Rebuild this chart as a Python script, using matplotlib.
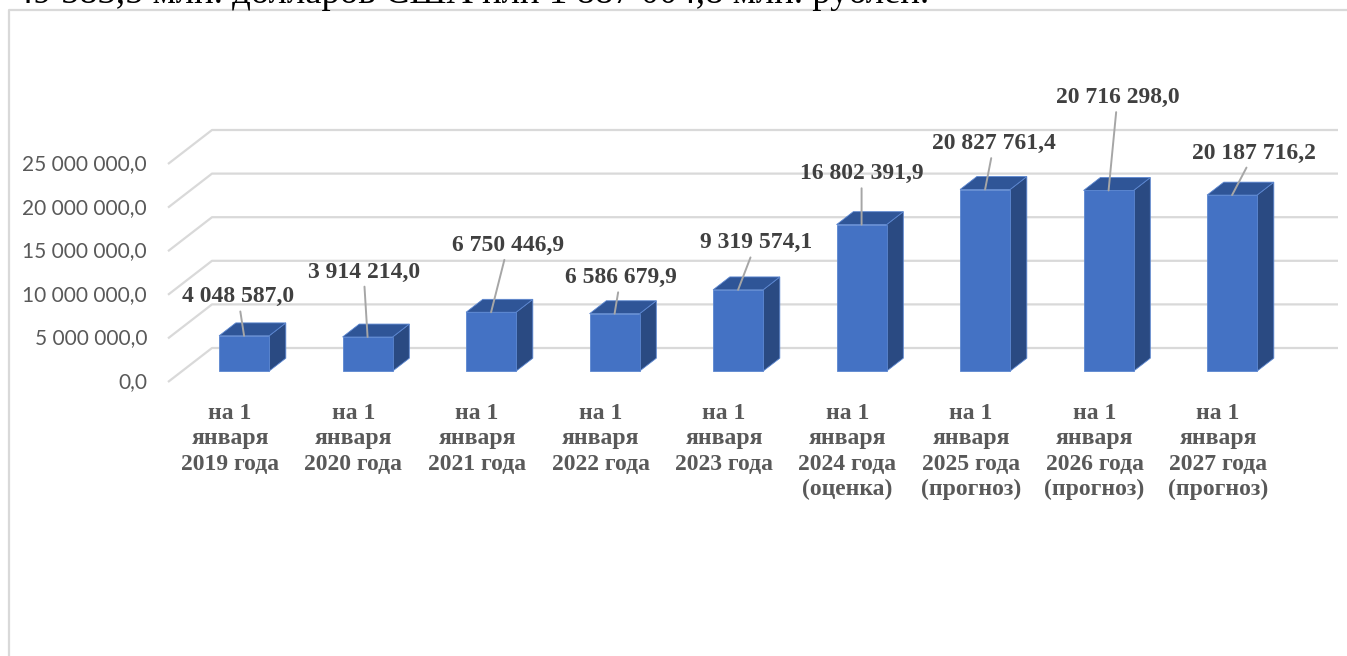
import matplotlib.pyplot as plt
from matplotlib.patches import Polygon
from matplotlib.lines import Line2D

# data
categories = [
    "на 1\nянваря\n2019 года",
    "на 1\nянваря\n2020 года",
    "на 1\nянваря\n2021 года",
    "на 1\nянваря\n2022 года",
    "на 1\nянваря\n2023 года",
    "на 1\nянваря\n2024 года\n(оценка)",
    "на 1\nянваря\n2025 года\n(прогноз)",
    "на 1\nянваря\n2026 года\n(прогноз)",
    "на 1\nянваря\n2027 года\n(прогноз)",
]
values = [4048587.0, 3914214.0, 6750446.9, 6586679.9, 9319574.1,
          16802391.9, 20827761.4, 20716298.0, 20187716.2]
y_ticks = [0, 5000000, 10000000, 15000000, 20000000, 25000000]
header_text = "49 583,5 млн. долларов США или 1 887 004,8 млн. рублей."

# label placement (pixels from bar top, manual like in the source chart)
label_offsets = [(-6, 39), (-4, 65), (17, 67), (6, 36), (18, 47),
                 (0, 51), (9, 46), (9, 93), (22, 42)]


def fmt(v):
    s = f"{v:,.1f}".replace(",", " ").replace(".", ",")
    return s


W, H = 1347, 656
fig = plt.figure(figsize=(W / 100, H / 100), dpi=100)
ax = fig.add_axes([0, 0, 1, 1])
ax.set_axis_off()

# pixel -> data scale: 123.5 px per category, 8.72 px per million
px_cat = 123.5
px_val = 8.72e-6
ax.set_xlim(-230 / px_cat, (W - 230) / px_cat)
ax.set_ylim((382 - H) / px_val, 382 / px_val)

DX = 44 / px_cat      # depth shift, category units
DY = 34 / px_val      # depth shift, value units


def P(c, v, d):
    return (c + d * DX, v + d * DY)


grid_col = "#D9D9D9"
x_left = -62 / px_cat
x_right = (1338 - 230) / px_cat

# walls / gridlines
for t in y_ticks:
    a = P(x_left, t, 0)
    b = P(x_left, t, 1)
    ax.plot([a[0], b[0], x_right], [a[1], b[1], b[1]], color=grid_col, lw=1.6,
            solid_capstyle="butt", zorder=1)
    ax.text(a[0] - 21 / px_cat, a[1], fmt(t), ha="right", va="center",
            fontsize=15, color="#595959", family="Lato")

# bars
front_col = "#4472C4"
top_col = "#2F5597"
side_col = "#2A4A82"
edge_col = "#5B86D0"
half = 0.2025
d0, d1 = 0.32, 0.70
for i, v in enumerate(values):
    fl = P(i - half, 0, d0)
    fr = P(i + half, 0, d0)
    ftl = P(i - half, v, d0)
    ftr = P(i + half, v, d0)
    btl = P(i - half, v, d1)
    btr = P(i + half, v, d1)
    bbr = P(i + half, 0, d1)
    ax.add_patch(Polygon([fr, bbr, btr, ftr], closed=True, facecolor=side_col,
                         edgecolor=edge_col, lw=0.6, zorder=3))
    ax.add_patch(Polygon([ftl, ftr, btr, btl], closed=True, facecolor=top_col,
                         edgecolor=edge_col, lw=0.6, zorder=3))
    ax.add_patch(Polygon([fl, fr, ftr, ftl], closed=True, facecolor=front_col,
                         edgecolor=edge_col, lw=0.6, zorder=4))

    # data label with leader line
    tip = P(i, v, d0)
    dx, dy = label_offsets[i]
    ax.annotate(fmt(v), xy=tip, xytext=(dx, dy), textcoords="offset pixels",
                ha="center", va="center", fontsize=17, fontweight="bold",
                color="#404040", family="Liberation Serif",
                arrowprops=dict(arrowstyle="-", color="#A6A6A6", lw=1.4,
                                shrinkA=1, shrinkB=0),
                zorder=6)

    # category label
    cx, cy = P(i, 0, 0)
    ax.text(cx, cy - 21 / px_val, categories[i], ha="center", va="top",
            fontsize=17, fontweight="bold", color="#595959",
            family="Liberation Serif", linespacing=1.27)

# frame of the embedded chart and the cut-off line of text above it
fig.add_artist(Line2D([9 / W, 9 / W, 1], [0, 1 - 10 / H, 1 - 10 / H],
                      transform=fig.transFigure, color=grid_col, lw=1.6))
fig.text(15 / W, 1 - 11 / H, header_text, ha="left", va="bottom",
         fontsize=26.5, color="black", family="Liberation Serif")

fig.savefig("out.png", dpi=100)
